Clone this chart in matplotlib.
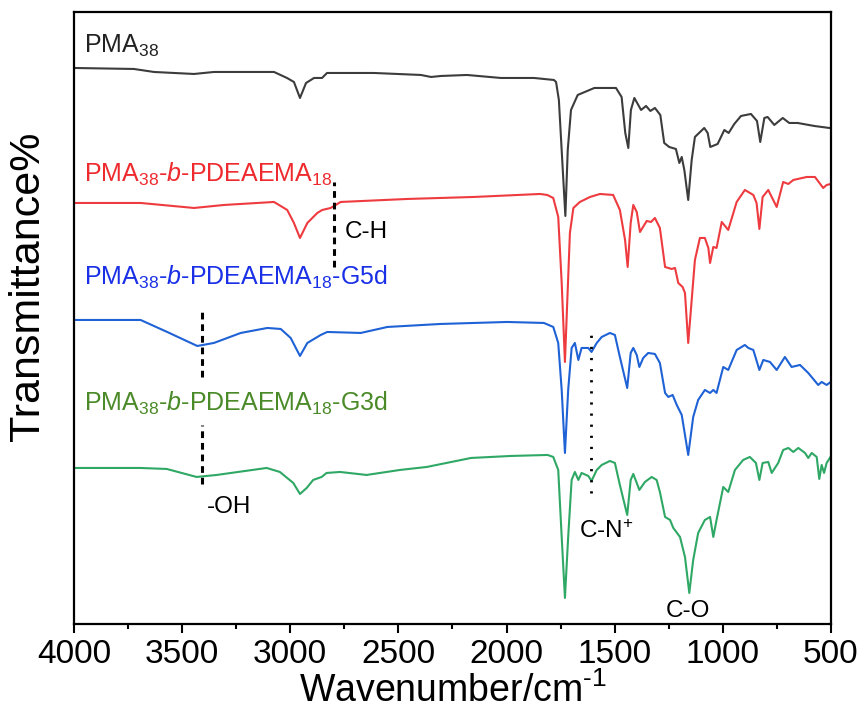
"""
Spectres FTIR des copolymères PMA38 / PDEAEMA18
"""

import numpy as np
import matplotlib
matplotlib.use("Agg")
import matplotlib.pyplot as plt

plt.rcParams['font.family'] = ['Liberation Sans', 'DejaVu Sans']
plt.rcParams['mathtext.fontset'] = 'custom'
plt.rcParams['mathtext.rm'] = 'Liberation Sans'
plt.rcParams['mathtext.it'] = 'Liberation Sans:italic'
plt.rcParams['mathtext.bf'] = 'Liberation Sans:bold'

# 1. Données (nombre d'onde en cm-1, transmittance décalée)
wn_pma = [4000, 3723, 3630, 3445, 3353, 3075, 3015, 2983, 2955, 2927, 2890, 2853,
          2830, 2613, 2396, 2349, 2303, 2183, 2026, 1873, 1781, 1771, 1758, 1741,
          1728, 1717, 1702, 1671, 1594, 1494, 1468, 1451, 1437, 1425, 1409, 1378,
          1355, 1335, 1314, 1289, 1271, 1248, 1217, 1201, 1190, 1178, 1160, 1144,
          1129, 1086, 1070, 1058, 1024, 993, 973, 947, 916, 870, 842, 827, 808,
          793, 762, 723, 693, 654, 577, 508, 500]
t_pma = [556, 555, 552, 550, 552, 552, 546, 542, 526, 541, 546, 546,
         551, 551, 549, 547, 548, 549, 546, 546, 544, 542, 524, 458,
         408, 474, 514, 529, 536, 536, 527, 491, 476, 514, 526, 514,
         518, 513, 516, 509, 481, 477, 475, 461, 467, 454, 424, 464,
         487, 496, 491, 477, 480, 494, 491, 500, 508, 510, 503, 482, 506,
         507, 499, 506, 501, 501, 498, 496, 496]

wn_bloc = [4000, 3692, 3445, 3306, 3075, 3014, 2983, 2955, 2921, 2875, 2852, 2813,
           2767, 2459, 2151, 1845, 1812, 1784, 1761, 1745, 1730, 1707, 1691, 1661,
           1614, 1568, 1507, 1476, 1452, 1440, 1426, 1414, 1398, 1383, 1352, 1332,
           1314, 1291, 1267, 1237, 1221, 1206, 1186, 1175, 1160, 1129, 1106, 1083,
           1067, 1059, 1044, 1029, 1005, 975, 936, 898, 859, 844, 831, 816, 790,
           751, 721, 697, 674, 612, 574, 536, 520, 501]
t_bloc = [421, 421, 416, 419, 422, 414, 401, 386, 401, 411, 414, 416,
          422, 425, 427, 430, 429, 426, 407, 341, 262, 391, 416, 422,
          427, 430, 429, 414, 384, 357, 401, 419, 412, 392, 403, 402,
          406, 396, 357, 355, 356, 341, 337, 331, 281, 364, 386, 386,
          376, 361, 377, 376, 402, 394, 422, 434, 429, 421, 395, 427, 434,
          417, 442, 440, 444, 447, 447, 436, 439, 440]

wn_g5d = [4000, 3692, 3569, 3430, 3353, 3229, 3106, 3044, 2998, 2955, 2921, 2859,
          2829, 2674, 2551, 2305, 1997, 1827, 1784, 1761, 1745, 1730, 1715, 1699,
          1684, 1668, 1653, 1622, 1607, 1583, 1560, 1522, 1499, 1476, 1442, 1426,
          1414, 1398, 1386, 1368, 1345, 1314, 1291, 1267, 1252, 1232, 1213, 1190,
          1160, 1137, 1114, 1083, 1059, 1044, 1029, 998, 975, 936, 898, 882, 859,
          831, 813, 782, 751, 713, 682, 643, 605, 559, 543, 520, 501]
t_g5d = [304, 304, 292, 278, 281, 291, 296, 295, 286, 268, 281, 289,
         292, 291, 297, 300, 302, 301, 297, 281, 234, 171, 234, 276,
         281, 264, 276, 276, 272, 281, 287, 291, 289, 267, 236, 271,
         276, 269, 257, 266, 271, 270, 261, 231, 227, 229, 219, 209,
         169, 207, 224, 234, 231, 234, 231, 257, 254, 274, 279, 276, 274,
         254, 264, 262, 254, 267, 257, 259, 251, 239, 242, 239, 242]

wn_g3d = [4000, 3695, 3571, 3433, 3340, 3109, 3048, 2986, 2955, 2924, 2894, 2855,
          2832, 2770, 2647, 2493, 2369, 2164, 1980, 1810, 1784, 1761, 1745, 1730,
          1715, 1699, 1684, 1668, 1653, 1622, 1607, 1583, 1560, 1522, 1499, 1476,
          1442, 1426, 1414, 1398, 1386, 1360, 1329, 1306, 1291, 1267, 1244, 1229,
          1198, 1175, 1155, 1137, 1114, 1083, 1059, 1044, 1029, 998, 975, 944,
          906, 875, 847, 831, 816, 790, 774, 759, 744, 721, 697, 674, 651, 620,
          605, 589, 566, 554, 543, 532, 520, 505, 500]
t_g3d = [156, 156, 155, 147, 149, 156, 152, 141, 130, 136, 144, 147,
         151, 152, 149, 154, 157, 166, 168, 169, 167, 154, 87, 26,
         87, 144, 152, 144, 151, 148, 143, 154, 159, 163, 161, 139,
         109, 144, 150, 141, 134, 142, 147, 144, 132, 107, 104, 96,
         87, 67, 31, 64, 91, 104, 107, 87, 104, 137, 132, 154,
         164, 167, 161, 144, 161, 162, 151, 156, 161, 174, 176, 172, 176, 171,
         166, 171, 167, 145, 159, 151, 161, 166, 168]

noms = ['PMA$_{38}$',
        'PMA$_{38}$-$b$-PDEAEMA$_{18}$',
        'PMA$_{38}$-$b$-PDEAEMA$_{18}$-G5d',
        'PMA$_{38}$-$b$-PDEAEMA$_{18}$-G3d']

# 2. Figure
fig = plt.figure(figsize=(8.62, 7.21), dpi=100)
ax = fig.add_axes([0.0858, 0.1346, 0.8782, 0.8481])

ax.plot(wn_pma, t_pma, color='#3c3c3c', lw=1.5)
ax.plot(wn_bloc, t_bloc, color='#ee3b3f', lw=1.5)
ax.plot(wn_g5d, t_g5d, color='#1f62d6', lw=1.5)
ax.plot(wn_g3d, t_g3d, color='#2fa865', lw=1.5)

# étiquettes des courbes
couleurs_txt = ['#222222', '#ee2a2e', '#1a30e6', '#4a8a28']
y_txt = [571, 442, 339, 213]
for nom, c, y in zip(noms, couleurs_txt, y_txt):
    ax.text(3955, y, nom, color=c, fontsize=18, va='baseline', ha='left')

# repères des bandes
ax.plot([2800, 2800], [357, 442], color='black', lw=2.2, ls=(0, (2.2, 1.6)))
ax.plot([3410, 3410], [247, 314], color='black', lw=2.2, ls=(0, (2.2, 1.6)))
ax.plot([3410, 3410], [140, 199], color='black', lw=2.2, ls=(0, (2.2, 1.6)))
ax.plot([1610, 1610], [131, 292], color='black', lw=2.0, ls=(0, (0.8, 3.2)))

ax.text(2747, 386, 'C-H', fontsize=17.5, va='baseline')
ax.text(3385, 111, '-OH', fontsize=17.5, va='baseline')
ax.text(1665, 86, 'C-N$^{+}$', fontsize=17.5, va='baseline')
ax.text(1263, 7, 'C-O', fontsize=17.5, va='baseline')

# axes
ax.set_xlim(4000, 500)
ax.set_ylim(0, 611.5)
ax.set_xticks(np.arange(4000, 499, -500))
ax.set_xticks(np.arange(3750, 500, -500), minor=True)
ax.set_yticks([])
ax.tick_params(axis='x', which='major', direction='out', length=6.5, width=1.5,
               labelsize=24, pad=4)
ax.tick_params(axis='x', which='minor', direction='out', length=3.5, width=1.5)
for s in ax.spines.values():
    s.set_linewidth(1.6)

ax.set_xlabel(r'Wavenumber/cm$^{\text{-}1}$', fontsize=27, labelpad=2)
ax.text(-0.061, 0.552, 'Transmittance%', transform=ax.transAxes, rotation=90,
        fontsize=31, ha='center', va='center')

plt.savefig('out.png', dpi=100)
